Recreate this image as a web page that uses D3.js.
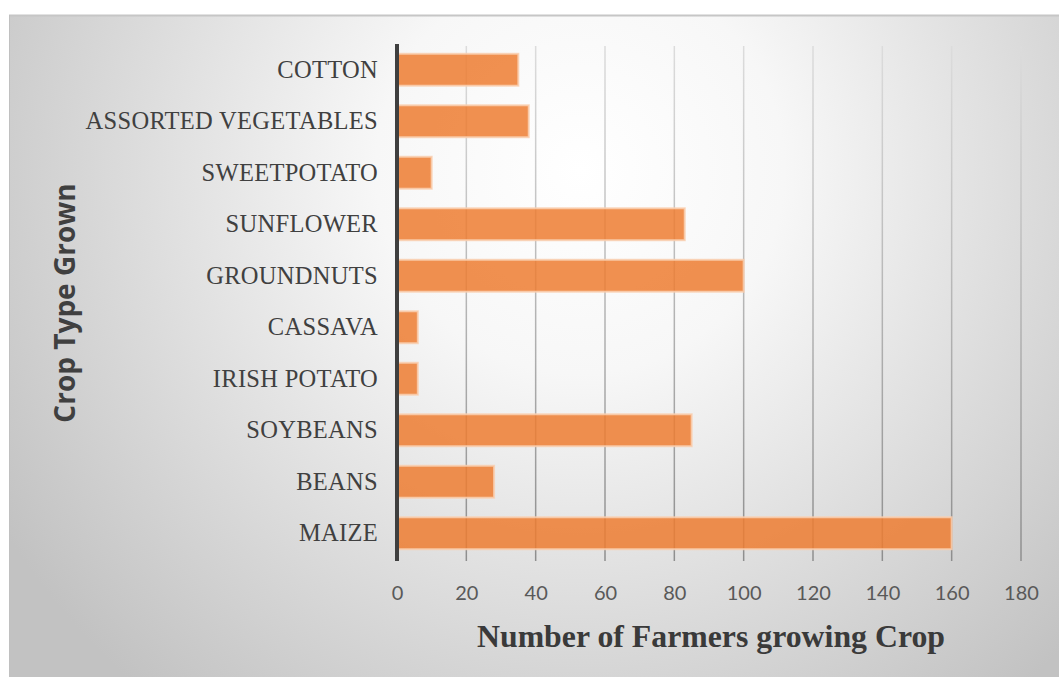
<!DOCTYPE html>
<html>
<head>
<meta charset="utf-8">
<script src="https://cdn.jsdelivr.net/npm/d3@7"></script>
<style>
  html, body { margin: 0; padding: 0; background: #ffffff; }
  svg { display: block; }
</style>
</head>
<body>
<svg id="chart" width="1059" height="677"></svg>
<script>
const categories = ["COTTON", "ASSORTED VEGETABLES", "SWEETPOTATO", "SUNFLOWER", "GROUNDNUTS",
                    "CASSAVA", "IRISH POTATO", "SOYBEANS", "BEANS", "MAIZE"];
const farmers = [35, 38, 10, 83, 100, 6, 6, 85, 28, 160];
const xTicks = [0, 20, 40, 60, 80, 100, 120, 140, 160, 180];
const xTitle = "Number of Farmers  growing  Crop";
const yTitle = "Crop Type Grown";

const svg = d3.select("#chart");
const defs = svg.append("defs");

const bg = defs.append("radialGradient").attr("id", "bg")
  .attr("gradientUnits", "userSpaceOnUse")
  .attr("cx", 580).attr("cy", 170).attr("r", 680);
bg.append("stop").attr("offset", 0).attr("stop-color", "#ffffff");
bg.append("stop").attr("offset", 0.3).attr("stop-color", "#f7f7f7");
bg.append("stop").attr("offset", 1).attr("stop-color", "#c2c2c2");

const gridGrad = defs.append("linearGradient").attr("id", "gridGrad")
  .attr("gradientUnits", "userSpaceOnUse")
  .attr("x1", 0).attr("y1", 46).attr("x2", 0).attr("y2", 561);
gridGrad.append("stop").attr("offset", 0).attr("stop-color", "#dcdcdc");
gridGrad.append("stop").attr("offset", 1).attr("stop-color", "#8e8e8e");

// chart area background
svg.append("rect").attr("x", 9).attr("y", 15).attr("width", 1050).attr("height", 662)
  .attr("fill", "url(#bg)");
svg.append("line").attr("x1", 9).attr("x2", 1059).attr("y1", 15.5).attr("y2", 15.5)
  .attr("stroke", "#c6c6c6").attr("stroke-width", 2);
svg.append("line").attr("x1", 9.5).attr("x2", 9.5).attr("y1", 15).attr("y2", 677)
  .attr("stroke", "#c0c0c0").attr("stroke-width", 1);

const x = d3.scaleLinear().domain([0, 180]).range([397, 1021]);
const y = d3.scaleBand().domain(categories).range([44, 559])
  .paddingInner(0.38).paddingOuter(0.19);

// gridlines
svg.append("g").selectAll("line").data(xTicks.filter(d => d > 0)).join("line")
  .attr("x1", d => x(d)).attr("x2", d => x(d))
  .attr("y1", 46).attr("y2", 561)
  .attr("stroke", "url(#gridGrad)").attr("stroke-width", 1.5);

// bars
svg.append("g").selectAll("rect").data(categories).join("rect")
  .attr("x", x(0))
  .attr("y", d => y(d))
  .attr("width", (d, i) => x(farmers[i]) - x(0))
  .attr("height", y.bandwidth())
  .attr("fill", "#ED7D31").attr("fill-opacity", 0.85)
  .attr("stroke", "#f9cfb0").attr("stroke-opacity", 0.85).attr("stroke-width", 2);

// y axis line
svg.append("line").attr("x1", x(0)).attr("x2", x(0)).attr("y1", 44).attr("y2", 561)
  .attr("stroke", "#3f3f3f").attr("stroke-width", 4);

// x axis tick labels (drawn via d3 axis)
const xAxis = d3.axisBottom(x).tickValues(xTicks).tickSize(0).tickPadding(0);
const gx = svg.append("g").attr("transform", "translate(0,586)").call(xAxis);
gx.attr("font-size", null).attr("font-family", null);
gx.select(".domain").remove();
gx.selectAll("text")
  .style("font-family", "Lato, 'Open Sans', sans-serif").style("font-size", "20px")
  .attr("fill", "#595959");

// y category labels (drawn via d3 axis)
const yAxis = d3.axisLeft(y).tickSize(0).tickPadding(0);
const gy = svg.append("g").attr("transform", "translate(378,0)").call(yAxis);
gy.attr("font-size", null).attr("font-family", null);
gy.select(".domain").remove();
gy.selectAll("text")
  .style("font-family", "'Liberation Serif', 'Times New Roman', serif").style("font-size", "24.5px")
  .style("letter-spacing", "0.3px")
  .attr("fill", "#404040");

// axis titles
svg.append("text").attr("x", 711).attr("y", 647).attr("text-anchor", "middle")
  .attr("font-family", "'Liberation Serif', 'Times New Roman', serif")
  .attr("font-weight", "bold").attr("font-size", 32)
  .attr("textLength", 468).attr("lengthAdjust", "spacingAndGlyphs")
  .attr("fill", "#3a3a3a").text(xTitle);

svg.append("text").attr("transform", "translate(75,303) rotate(-90)")
  .attr("text-anchor", "middle")
  .attr("font-family", "'Open Sans', sans-serif")
  .attr("font-weight", "bold").attr("font-size", 28)
  .attr("fill", "#404040").text(yTitle);
</script>
</body>
</html>
